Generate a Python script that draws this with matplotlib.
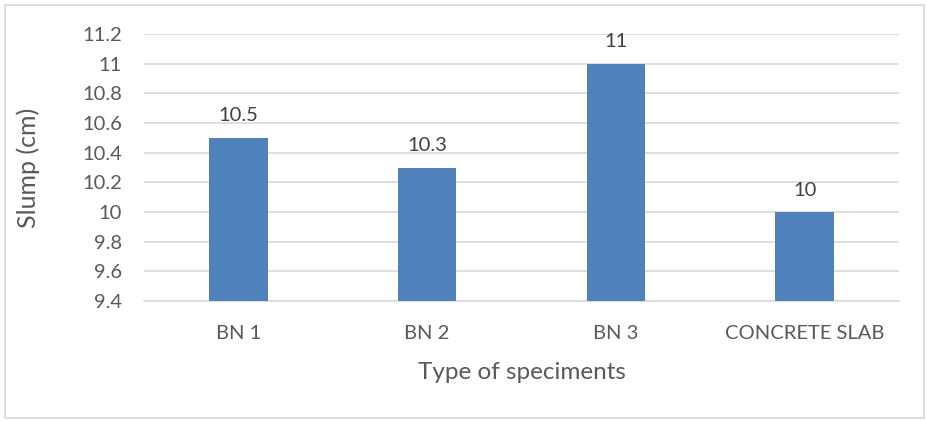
import matplotlib
matplotlib.use("Agg")
import matplotlib.pyplot as plt
from matplotlib.patches import Rectangle

categories = ["BN 1", "BN 2", "BN 3", "CONCRETE SLAB"]
slump = [10.5, 10.3, 11.0, 10.0]
value_labels = ["10.5", "10.3", "11", "10"]
yticks = [9.4, 9.6, 9.8, 10.0, 10.2, 10.4, 10.6, 10.8, 11.0, 11.2]
ytick_labels = ["9.4", "9.6", "9.8", "10", "10.2", "10.4", "10.6", "10.8", "11", "11.2"]

plt.rcParams["font.family"] = ["Lato", "DejaVu Sans"]
text_color = "#595959"
bar_color = "#4F81BD"
grid_color = "#D9D9D9"

W, H = 927, 421
fig = plt.figure(figsize=(W / 100, H / 100), dpi=100)
fig.patches.append(Rectangle((5 / W, 3 / H), 919 / W, 413 / H, transform=fig.transFigure,
                             fill=False, edgecolor="#D9D9D9", linewidth=1.2))

left, right, top, bottom = 144, 899, 34, 301
ax = fig.add_axes([left / W, 1 - bottom / H, (right - left) / W, (bottom - top) / H])

x = range(len(categories))
base = yticks[0]
ax.bar(x, [v - base for v in slump], bottom=base, width=0.31, color=bar_color, zorder=3)
for xi, v, lab in zip(x, slump, value_labels):
    ax.text(xi, v + 0.09, lab, ha="center", va="bottom", fontsize=14.5, color="#404040")

ax.set_xlim(-0.5, len(categories) - 0.5)
ax.set_ylim(yticks[0], yticks[-1])
ax.set_yticks(yticks)
ax.set_yticklabels(ytick_labels)
ax.set_xticks(list(x))
ax.set_xticklabels(categories)
ax.tick_params(axis="both", length=0, labelsize=14.5, labelcolor=text_color)
ax.tick_params(axis="x", pad=17)
ax.tick_params(axis="y", pad=16)
ax.grid(axis="y", color=grid_color, linewidth=1.2, zorder=0)
for s in ["top", "right", "left"]:
    ax.spines[s].set_visible(False)
ax.spines["bottom"].set_color(grid_color)
ax.spines["bottom"].set_linewidth(1.2)

ax.set_xlabel("Type of speciments", fontsize=17.5, color=text_color, labelpad=15)
ax.set_ylabel("Slump (cm)", fontsize=18, color=text_color)
ax.yaxis.set_label_coords(-104 / (right - left), 0.5)

fig.savefig("out.png", dpi=100)
